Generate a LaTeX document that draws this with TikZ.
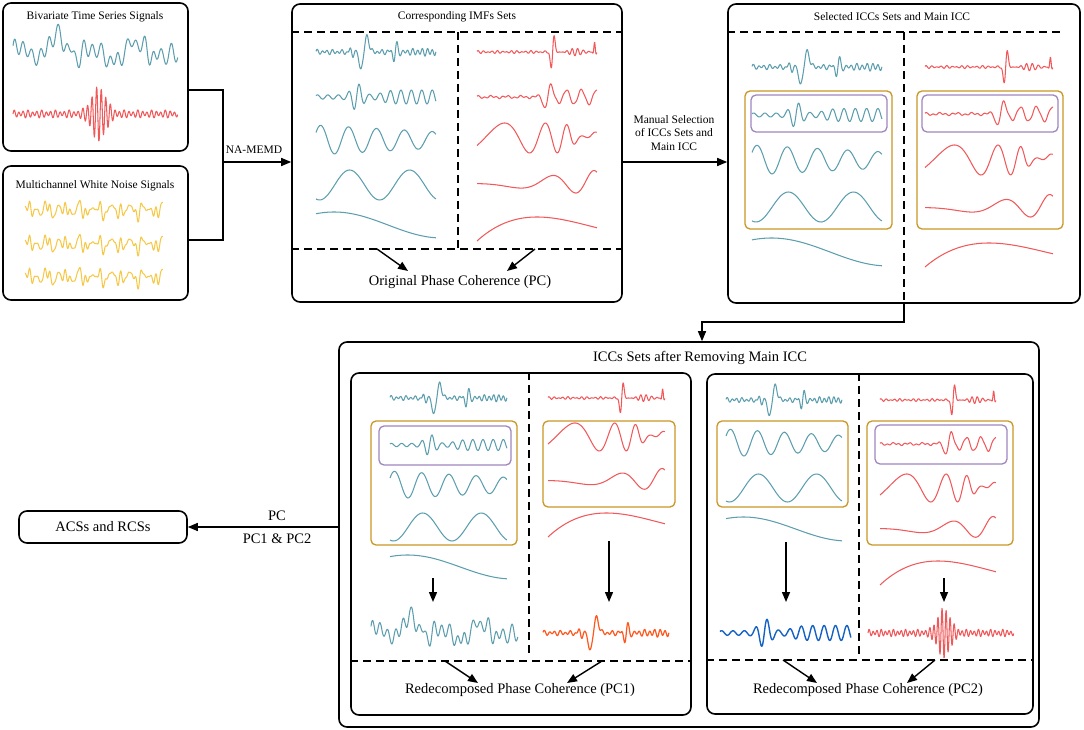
\documentclass[tikz,border=0pt]{standalone}
\usepackage{fontspec}
\setmainfont{Liberation Serif}
\usetikzlibrary{arrows.meta,fit}
\definecolor{tealc}{RGB}{92,158,174}
\definecolor{redc}{RGB}{240,88,90}
\definecolor{yelc}{RGB}{246,200,72}
\definecolor{orac}{RGB}{255,88,30}
\definecolor{bluc}{RGB}{22,98,196}
\definecolor{goldc}{RGB}{202,150,36}
\definecolor{purc}{RGB}{160,134,192}
\newcommand\wave[7]{\draw[sig,#1] plot[domain=0:1,samples=#7] ({#2+(#3-#2)*\x},{#4-(#5)*#6(\x)});}
\begin{document}
\begin{tikzpicture}[x=1pt,y=-1pt,
  panel/.style={draw, line width=1.6pt, rounded corners=8pt, inner sep=0pt},
  goldbox/.style={draw=goldc, line width=1.3pt, rounded corners=5pt, inner sep=0pt},
  purbox/.style={draw=purc, line width=1.3pt, rounded corners=5pt, inner sep=0pt},
  dsh/.style={dash pattern=on 8pt off 5pt, line width=1.2pt},
  arr/.style={-{Triangle[length=10pt,width=8pt]}, line width=1.4pt},
  conn/.style={line width=1.4pt},
  sig/.style={line width=1.05pt, line join=round},
  ttl/.style={font=\fontsize{11.5}{13.5}\selectfont, align=center, inner sep=0pt},
  big/.style={font=\fontsize{14.5}{16}\selectfont, inner sep=0pt},
  declare function={
    gs(\u)=exp(-min((\u)*(\u),30));
    sg(\u)=1/(1+exp(-max(min(\u,9),-9)));
    imfa(\t)=0.13*sin(8640*\t)+0.08*sin(5400*\t+40)+0.45*gs((\t-0.3)/0.035)*sin(7920*\t)+2.2*gs((\t-0.4)/0.04)*sin(2160*(\t-0.4))+0.8*gs((\t-0.66)/0.03)*sin(6120*(\t-0.66))+0.12*sg((\t-0.7)*30)*sin(9000*\t);
    imfb(\t)=(0.15+0.85*gs((\t-0.34)/0.06)+0.35*sg((\t-0.55)*30))*sin(4140*\t+40);
    imfc(\t)=(1-0.45*\t)*sin(1548*\t+30);
    imfd(\t)=-cos(720*(\t-0.03));
    imfe(\t)=cos(200*(\t-0.15));
    rmfa(\t)=0.06*sin(9000*\t)+0.05*sin(6480*\t+60)+2.0*gs((\t-0.63)/0.022)*sin(5040*(\t-0.63))+0.3*gs((\t-0.8)/0.08)*sin(8280*\t)+0.8*gs((\t-0.98)/0.012)*cos(9000*(\t-0.98));
    rmfb(\t)=0.05*sin(7200*\t)+(0.05+0.9*gs((\t-0.59)/0.05)+0.4*sg((\t-0.66)*40))*sin(2880*(\t-0.589));
    rmfc(\t)=(1-0.92*sg((\t-0.8)*40))*sin(-30+459*\t+1178*\t*\t*\t)+0.4*sg((\t-0.95)*40);
    rmfd(\t)=(0.3+0.7*\t*\t)*sin(-170+656*\t*\t);
    rmfe(\t)=-1+9.1*\t-12.4*\t*\t+4.4*\t*\t*\t;
    rawt(\t)=0.3*imfa(\t)+0.5*imfb(\t)+0.45*imfc(\t)+0.3*imfd(\t)+0.35*sin(6840*\t+30)+0.15*imfe(\t);
    rawr(\t)=(0.12+gs((\t-0.52)/0.06))*sin(12960*\t)+0.05*sin(8700*\t);
    noiz(\t)=0.35*sin(2988*\t)+0.3*sin(4716*\t+50)+0.3*sin(7092*\t+200)+0.25*sin(9828*\t+120)+0.15*sin(12600*\t+10);
  }]
\useasboundingbox (0,0) rectangle (1084,730);

% ---------------- panels ----------------
\node[panel, fit={(3,3)(188,151)}] (A) {};
\node[panel, fit={(3,166)(188,300)}] (B) {};
\node[panel, fit={(292,4)(622,302)}] (C) {};
\node[panel, fit={(728,4)(1080,303)}] (D) {};
\node[panel, fit={(339,342)(1039,727)}] (E) {};
\node[panel, fit={(351,373)(691,715)}] (E1) {};
\node[panel, fit={(707,374)(1033,714)}] (E2) {};
\node[panel, minimum width=168pt, minimum height=32pt, font=\fontsize{14.5}{16}\selectfont] (F) at (103,527) {ACSs and RCSs};

% ---------------- titles ----------------
\node[ttl] (tA) at (95,17) {Bivariate Time Series Signals};
\node[ttl] (tB) at (95,186) {Multichannel White Noise Signals};
\node[ttl] (tC) at (457,17) {Corresponding IMFs Sets};
\node[ttl] (tD) at (892,17) {Selected ICCs Sets and Main ICC};
\node[big] (tE) at (700,358) {ICCs Sets after Removing Main ICC};
\node[big] (pcC) at (460,282) {Original Phase Coherence (PC)};
\node[big] (pc1) at (520,690) {Redecomposed Phase Coherence (PC1)};
\node[big] (pc2) at (868,690) {Redecomposed Phase Coherence (PC2)};
\node[ttl] (lman) at (674,133) {Manual Selection\\of ICCs Sets and\\Main ICC};
\node[ttl] (lna) at (254,150) {NA-MEMD};
\node[big] (lpc) at (277,516) {PC};
\node[big] (lpc2) at (277,539) {PC1 \& PC2};

% ---------------- dashed separators ----------------
\draw[dsh] (C.west |- 0,32) -- (C.east |- 0,32);
\draw[dsh] (C.west |- 0,249) -- (C.east |- 0,249);
\draw[dsh] (458,32) -- (458,249);
\draw[dsh] (D.west |- 0,32) -- (1062,32);
\draw[dsh] (904,32) -- (D.south -| 904,0);
\draw[dsh] (E1.north -| 529,0) -- (529,655);
\draw[dsh] (E1.west |- 0,661) -- (E1.east |- 0,661);
\draw[dsh] (E2.north -| 859,0) -- (859,655);
\draw[dsh] (E2.west |- 0,660) -- (E2.east |- 0,660);

% ---------------- gold / purple frames ----------------
\node[goldbox, fit={(745,91)(892,229)}] (gD1) {};
\node[goldbox, fit={(917,91)(1063,229)}] (gD2) {};
\node[purbox, fit={(751,95)(887,132)}] (pD1) {};
\node[purbox, fit={(922,95)(1058,132)}] (pD2) {};
\node[goldbox, fit={(371,421)(517,545)}] (g11) {};
\node[purbox, fit={(379,426)(511,465)}] (p11) {};
\node[goldbox, fit={(543,421)(675,507)}] (g12) {};
\node[goldbox, fit={(717,421)(848,507)}] (g21) {};
\node[goldbox, fit={(867,421)(1013,545)}] (g22) {};
\node[purbox, fit={(875,425)(1007,464)}] (p22) {};

% ---------------- connectors ----------------
\coordinate (jA) at (223,90);
\coordinate (jB) at (223,240);
\coordinate (jM) at (223,162);
\draw[conn] (A.east |- jA) -- (jA) -- (jB) -- (B.east |- jB);
\draw[arr] (jM) -- (C.west |- jM);
\draw[arr] (C.east |- jM) -- (D.west |- jM);
\coordinate (k1) at (904,322);
\coordinate (k2) at (702,322);
\draw[arr] (D.south -| k1) -- (k1) -- (k2) -- (E.north -| k2);
\draw[arr] (E.west |- F.east) -- (F.east);

\coordinate (c1s) at (377,249); \coordinate (c1e) at (408,271);
\coordinate (c2s) at (535,249); \coordinate (c2e) at (507,271);
\draw[arr] (c1s) -- (c1e);
\draw[arr] (c2s) -- (c2e);
\coordinate (e1s) at (445,661); \coordinate (e1e) at (478,683);
\coordinate (e2s) at (602,661); \coordinate (e2e) at (567,683);
\draw[arr] (e1s) -- (e1e);
\draw[arr] (e2s) -- (e2e);
\coordinate (f1s) at (783,660); \coordinate (f1e) at (817,683);
\coordinate (f2s) at (935,660); \coordinate (f2e) at (907,683);
\draw[arr] (f1s) -- (f1e);
\draw[arr] (f2s) -- (f2e);
\coordinate (v1s) at (433,578); \coordinate (v1e) at (433,602);
\coordinate (v2s) at (609,541); \coordinate (v2e) at (609,602);
\coordinate (v3s) at (786,542); \coordinate (v3e) at (786,602);
\coordinate (v4s) at (944,578); \coordinate (v4e) at (944,602);
\draw[arr] (v1s) -- (v1e);
\draw[arr] (v2s) -- (v2e);
\draw[arr] (v3s) -- (v3e);
\draw[arr] (v4s) -- (v4e);

% ---------------- signals: box A, B ----------------
\wave{tealc}{13}{178}{52}{20}{rawt}{400}
\wave{redc}{13}{178}{114}{24}{rawr}{450}
\wave{yelc}{25}{163}{210}{10}{noiz}{300}
\wave{yelc}{25}{163}{244}{10}{noiz}{300}
\wave{yelc}{25}{163}{277}{10}{noiz}{300}

% ---------------- box C ----------------
\wave{tealc}{316}{436}{52}{13}{imfa}{300}
\wave{tealc}{316}{436}{97}{14}{imfb}{250}
\wave{tealc}{316}{436}{140}{15}{imfc}{100}
\wave{tealc}{316}{436}{185}{15}{imfd}{80}
\wave{tealc}{316}{436}{225}{13}{imfe}{50}
\wave{redc}{477}{597}{52}{13}{rmfa}{400}
\wave{redc}{477}{597}{97}{16}{rmfb}{250}
\wave{redc}{477}{597}{138}{15}{rmfc}{150}
\wave{redc}{477}{597}{183}{13}{rmfd}{100}
\wave{redc}{477}{597}{229}{12}{rmfe}{50}

% ---------------- box D ----------------
\wave{tealc}{752}{882}{67}{13}{imfa}{300}
\wave{tealc}{752}{882}{115}{13}{imfb}{250}
\wave{tealc}{752}{882}{160}{15}{imfc}{100}
\wave{tealc}{752}{882}{207}{15}{imfd}{80}
\wave{tealc}{752}{882}{252}{14}{imfe}{50}
\wave{redc}{925}{1053}{67}{13}{rmfa}{400}
\wave{redc}{925}{1053}{114}{16}{rmfb}{250}
\wave{redc}{925}{1053}{160}{15}{rmfc}{150}
\wave{redc}{925}{1053}{207}{13}{rmfd}{100}
\wave{redc}{925}{1053}{255}{12}{rmfe}{50}

% ---------------- box E1 ----------------
\wave{tealc}{390}{507}{398}{12}{imfa}{300}
\wave{tealc}{390}{507}{445}{11}{imfb}{250}
\wave{tealc}{390}{507}{485}{14}{imfc}{100}
\wave{tealc}{390}{507}{527}{14}{imfd}{80}
\wave{tealc}{390}{507}{567}{12}{imfe}{50}
\wave{tealc}{371}{518}{632}{18}{rawt}{400}
\wave{redc}{548}{665}{398}{12}{rmfa}{400}
\wave{redc}{548}{665}{437}{14}{rmfc}{150}
\wave{redc}{548}{665}{480}{12}{rmfd}{100}
\wave{redc}{548}{665}{525}{12}{rmfe}{50}
\wave{orac,line width=1.2pt}{543}{669}{633}{13}{imfa}{300}

% ---------------- box E2 ----------------
\wave{tealc}{726}{842}{400}{12}{imfa}{300}
\wave{tealc}{726}{842}{443}{14}{imfc}{100}
\wave{tealc}{726}{842}{488}{14}{imfd}{80}
\wave{tealc}{726}{842}{529}{12}{imfe}{50}
\wave{bluc,line width=1.4pt}{720}{851}{633}{15}{imfb}{250}
\wave{redc}{880}{996}{400}{12}{rmfa}{400}
\wave{redc}{880}{996}{444}{15}{rmfb}{250}
\wave{redc}{880}{996}{488}{14}{rmfc}{150}
\wave{redc}{880}{996}{528}{12}{rmfd}{100}
\wave{redc}{880}{996}{573}{12}{rmfe}{50}
\wave{redc}{868}{1014}{633}{22}{rawr}{450}
\end{tikzpicture}
\end{document}
